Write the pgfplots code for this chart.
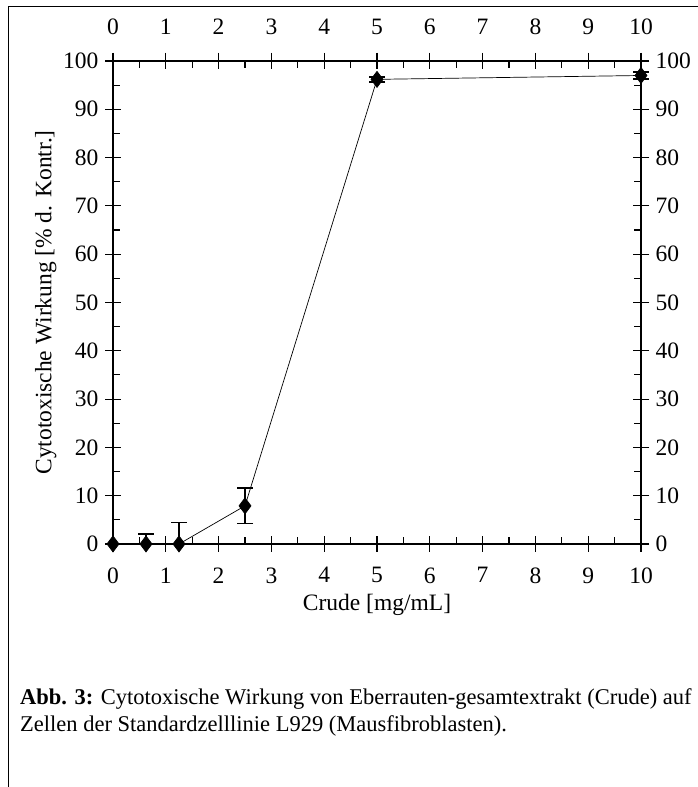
\documentclass[border=0pt]{standalone}
\usepackage{fontspec}
\setmainfont{Liberation Serif}
\usepackage{pgfplots}
\pgfplotsset{compat=1.18}
\pgfplotsset{
  base/.style={
    scale only axis, width=528pt, height=483pt,
    xmin=0, xmax=10, ymin=0, ymax=100,
    at={(113pt,243pt)}, anchor=south west,
    xtick={0,1,...,10}, ytick={0,10,...,100},
    /pgf/number format/assume math mode=true,
    tick label style={font=\fontsize{23.5}{28}\selectfont},
    label style={font=\fontsize{23.5}{28}\selectfont},
    axis line style={line width=1.3pt},
    every tick/.style={black, line width=1.1pt},
    clip=false,
  }
}
\begin{document}
\begin{tikzpicture}[x=1pt,y=1pt]
\useasboundingbox (0,0) rectangle (698,787);
\draw[line width=1pt] (8,-5) -- (8,780) -- (710,780);

% minor ticks inside
\begin{axis}[base, tick pos=both, tick align=inside,
  major tick length=0pt, minor tick length=7pt,
  minor x tick num=1, minor y tick num=1,
  xticklabels={}, yticklabels={}]
\end{axis}

% top/right labels
\begin{axis}[base, tick pos=both, tick align=center, major tick length=16pt,
  xticklabel pos=upper, yticklabel pos=right,
  xticklabel style={yshift=15pt},
  yticklabel style={xshift=3pt}]
\end{axis}

% main
\begin{axis}[base, tick pos=both, tick align=center, major tick length=16pt,
  xticklabel pos=lower, yticklabel pos=left,
  xticklabel style={yshift=-12pt},
  yticklabel style={xshift=-3pt},
  xlabel={Crude [mg/mL]},
  ylabel={Cytotoxische Wirkung [\% d. Kontr.]},
  xlabel style={yshift=-4pt},
  ylabel style={yshift=0pt}]
\addplot[black, line width=0.7pt, mark=diamond*, mark size=8pt,
  mark options={solid, fill=black},
  error bars/.cd, y dir=both, y explicit,
  error bar style={line width=1.5pt},
  error mark options={rotate=90, mark size=8pt, line width=1.5pt}]
  coordinates {
  (0,0) +- (0,0)
  (0.625,0) += (0,2.1) -= (0,0)
  (1.25,0) += (0,4.5) -= (0,0)
  (2.5,7.9) +- (0,3.7)
  (5,96.2) +- (0,0.5)
  (10,97.0) +- (0,0.7)
  };
\end{axis}

\node[anchor=base west, inner sep=0pt, font=\fontsize{22.5}{27}\selectfont]
  at (20,82) {\textbf{Abb. 3:} Cytotoxische Wirkung von Eberrauten-gesamtextrakt (Crude) auf};
\node[anchor=base west, inner sep=0pt, font=\fontsize{22.5}{27}\selectfont]
  at (20,55) {Zellen der Standardzelllinie L929 (Mausfibroblasten).};
\end{tikzpicture}
\end{document}
